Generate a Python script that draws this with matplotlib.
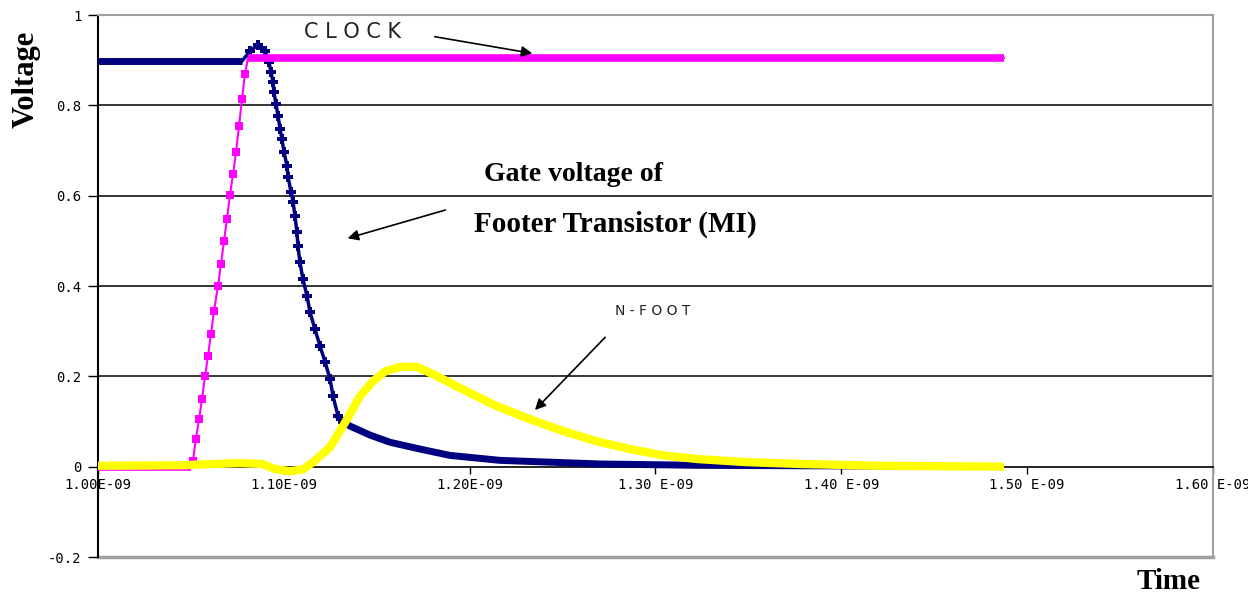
import matplotlib
matplotlib.use("Agg")
import matplotlib.pyplot as plt

# time in ns, voltage in V
gate_t = [1.0000, 1.0775, 1.0818, 1.0861, 1.0899, 1.0920, 1.0931, 1.0942, 1.0947,
          1.0958, 1.0969, 1.0980, 1.0990, 1.1001, 1.1017, 1.1023, 1.1039, 1.1050,
          1.1060, 1.1071, 1.1076, 1.1087, 1.1103, 1.1125, 1.1141, 1.1168, 1.1195,
          1.1222, 1.1249, 1.1265, 1.1292, 1.1319, 1.1356, 1.1464, 1.1572, 1.1733,
          1.1894, 1.2164, 1.2433, 1.2702, 1.3240, 1.4386]
gate_v = [0.898, 0.898, 0.920, 0.934, 0.920, 0.896, 0.874, 0.852, 0.829,
          0.803, 0.776, 0.748, 0.725, 0.697, 0.666, 0.641, 0.608, 0.586,
          0.555, 0.519, 0.488, 0.453, 0.415, 0.378, 0.342, 0.304, 0.267,
          0.232, 0.194, 0.156, 0.112, 0.099, 0.090, 0.070, 0.054, 0.039,
          0.025, 0.014, 0.010, 0.006, 0.003, 0.001]

clk_t = [1.0000, 1.0501, 1.0511, 1.0527, 1.0544, 1.0560, 1.0576, 1.0592, 1.0608,
         1.0624, 1.0646, 1.0662, 1.0678, 1.0694, 1.0710, 1.0727, 1.0743, 1.0759,
         1.0775, 1.0791, 1.0807, 1.4876]
clk_v = [0.0, 0.0, 0.012, 0.061, 0.105, 0.150, 0.200, 0.245, 0.293,
         0.344, 0.400, 0.449, 0.499, 0.548, 0.601, 0.648, 0.697, 0.754,
         0.814, 0.869, 0.905, 0.905]

nfoot_t = [1.0000, 1.0441, 1.0764, 1.0883, 1.0953, 1.1033, 1.1103, 1.1157, 1.1249,
           1.1340, 1.1410, 1.1480, 1.1545, 1.1625, 1.1717, 1.1803, 1.1964, 1.2147,
           1.2325, 1.2502, 1.2685, 1.2863, 1.3041, 1.3224, 1.3493, 1.3778, 1.4209,
           1.4876]
nfoot_v = [0.002, 0.003, 0.008, 0.006, -0.005, -0.010, -0.006, 0.010, 0.043,
           0.105, 0.156, 0.189, 0.211, 0.221, 0.221, 0.205, 0.171, 0.134,
           0.105, 0.079, 0.056, 0.039, 0.025, 0.017, 0.010, 0.006, 0.002,
           0.0]

xticks = [1.0, 1.1, 1.2, 1.3, 1.4, 1.5, 1.6]
xlabels = ["1.00E-09", "1.10E-09", "1.20E-09", "1.30 E-09", "1.40 E-09", "1.50 E-09", "1.60 E-09"]
yticks = [-0.2, 0, 0.2, 0.4, 0.6, 0.8, 1]
ylabels = ["-0.2", "0", "0.2", "0.4", "0.6", "0.8", "1"]

navy = "#000080"
magenta = "#FF00FF"
yellow = "#FFFF00"

fig = plt.figure(figsize=(12.48, 5.96), dpi=100)
ax = fig.add_axes([0.0785, 0.0654, 0.8934, 0.9094])

for g in [0.2, 0.4, 0.6, 0.8]:
    ax.axhline(g, color="black", lw=1.1, zorder=1)

# gate voltage: thin line with plus markers on the edge, thick on the flat parts
ax.plot(gate_t, gate_v, color=navy, lw=2.5, marker="P", ms=7.5, mew=0,
        markevery=slice(2, 32), zorder=3)
ax.plot(gate_t[:2], gate_v[:2], color=navy, lw=5, zorder=3, solid_capstyle="butt")
ax.plot(gate_t[30:], gate_v[30:], color=navy, lw=5, zorder=3, solid_capstyle="butt")

ax.plot(clk_t, clk_v, color=magenta, lw=1.5, marker="s", ms=5.5, mew=0,
        markevery=slice(2, 20), zorder=4)
ax.plot(clk_t[20:], clk_v[20:], color=magenta, lw=5.5, zorder=4, solid_capstyle="butt")
ax.plot(clk_t[:2], clk_v[:2], color=magenta, lw=5.5, zorder=4, solid_capstyle="butt")

ax.plot(nfoot_t, nfoot_v, color=yellow, lw=6, zorder=5, solid_capstyle="butt")

ax.set_xlim(1.0, 1.6)
ax.set_ylim(-0.2, 1.0)

ax.spines["bottom"].set_position(("data", 0))
ax.spines["bottom"].set_color("black")
ax.spines["bottom"].set_linewidth(1.2)
ax.spines["left"].set_color("black")
ax.spines["left"].set_linewidth(1.5)
for s in ["top", "right"]:
    ax.spines[s].set_color("#a0a0a0")
    ax.spines[s].set_linewidth(1.5)
ax.axhline(-0.2, color="#a0a0a0", lw=2.5, zorder=0, clip_on=False)

ax.set_xticks(xticks)
ax.set_xticklabels(xlabels, fontsize=10, family="DejaVu Sans Mono")
ax.set_yticks(yticks)
ax.set_yticklabels(ylabels, fontsize=10, family="DejaVu Sans Mono")
ax.tick_params(axis="x", direction="out", length=5, width=1, pad=3)
ax.tick_params(axis="y", direction="out", length=7, width=1, pad=5)

serif = "Liberation Serif"
fig.text(0.021, 0.866, "Voltage", rotation=90, ha="center", va="center",
         fontsize=22, fontweight="bold", family=serif)
fig.text(0.936, 0.0235, "Time", ha="center", va="center",
         fontsize=21, fontweight="bold", family=serif)

ax.text(1.1372, 0.962, "C L O C K", ha="center", va="center", fontsize=15,
        color="#222222", family="DejaVu Sans")
ax.text(1.2557, 0.648, "Gate voltage of", ha="center", va="center", fontsize=20,
        fontweight="bold", family=serif)
ax.text(1.2783, 0.537, "Footer Transistor (MI)", ha="center", va="center",
        fontsize=21, fontweight="bold", family=serif)
ax.text(1.2987, 0.344, "N - F O O T", ha="center", va="center", fontsize=10,
        color="#222222", family="DejaVu Sans")

arrow = dict(arrowstyle="-|>", color="black", lw=1.2, mutation_scale=16)
ax.annotate("", xy=(1.2352, 0.914), xytext=(1.1798, 0.953), arrowprops=arrow, zorder=6)
ax.annotate("", xy=(1.1329, 0.504), xytext=(1.1884, 0.570), arrowprops=arrow, zorder=6)
ax.annotate("", xy=(1.2341, 0.121), xytext=(1.2740, 0.291), arrowprops=arrow, zorder=6)

fig.savefig("out.png", dpi=100)
